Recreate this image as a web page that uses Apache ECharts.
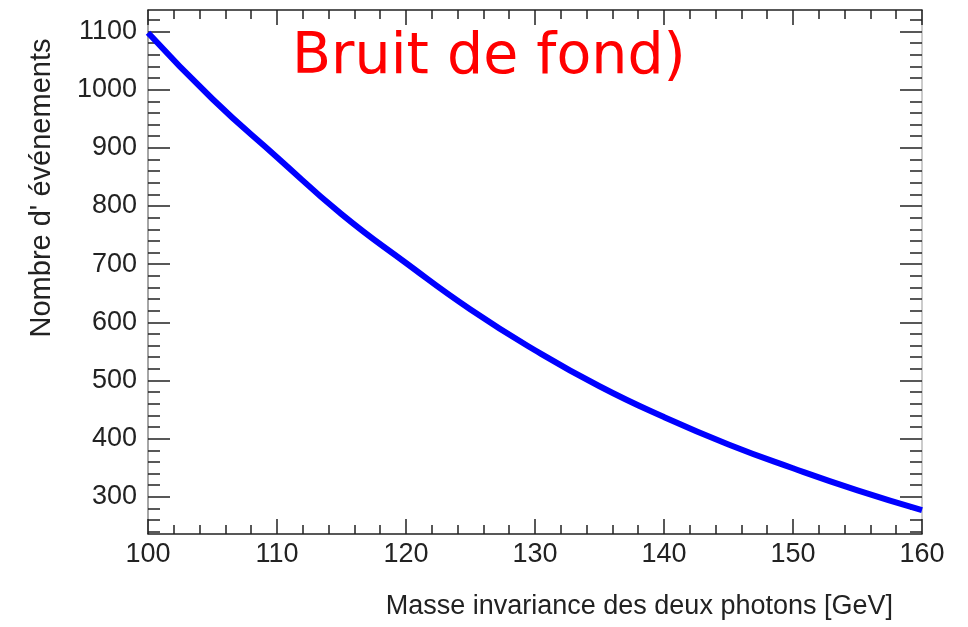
<!DOCTYPE html>
<html>
<head>
<meta charset="utf-8">
<script src="https://cdn.jsdelivr.net/npm/echarts@6/dist/echarts.min.js"></script>
<style>
html,body{margin:0;padding:0;background:#fff;}
#chart{width:968px;height:627px;}
</style>
</head>
<body>
<div id="chart"></div>
<script>
// Data
const massGeV = [100, 105, 110, 115, 120, 125, 130, 135, 140, 145, 150, 155, 160];
const nEvents = [1098, 984, 884, 786, 702, 622, 552, 490, 437, 390, 349, 311, 277];
const xTickLabels = [100, 110, 120, 130, 140, 150, 160];
const yTickLabels = [300, 400, 500, 600, 700, 800, 900, 1000, 1100];
const yMinorTicks = [];
for (let v = 240; v <= 1120; v += 20) yMinorTicks.push(v);

const Y_MIN = 236, Y_MAX = 1137;
const labelFont = { fontFamily: 'Liberation Sans, Arial, sans-serif', fontSize: 27, color: '#222' };

const chart = echarts.init(document.getElementById('chart'), null, { renderer: 'canvas' });

function yAx(pos, major, withLabels, lineColor) {
  return {
    type: 'value', position: pos, min: Y_MIN, max: Y_MAX,
    splitLine: { show: false },
    axisLine: { show: major, lineStyle: { color: lineColor, width: 1.5 } },
    axisTick: {
      show: true, inside: true,
      customValues: major ? yTickLabels : yMinorTicks,
      length: major ? 22 : 12,
      lineStyle: { color: '#222', width: 1.5 }
    },
    axisLabel: withLabels
      ? Object.assign({ show: true, customValues: yTickLabels, margin: 11,
          formatter: v => String(v) }, labelFont)
      : { show: false }
  };
}

function xAx(pos, withLabels, lineColor) {
  return {
    type: 'value', position: pos, min: 100, max: 160, interval: 10,
    splitLine: { show: false },
    axisLine: { show: true, lineStyle: { color: lineColor, width: 1.5 } },
    axisTick: { show: true, inside: true, length: 15, lineStyle: { color: '#222', width: 1.5 } },
    minorTick: { show: true, splitNumber: 5, length: 9, lineStyle: { color: '#222', width: 1.5 } },
    axisLabel: withLabels
      ? Object.assign({ show: true, margin: 7, formatter: v => String(v) }, labelFont)
      : { show: false }
  };
}

chart.setOption({
  animation: false,
  backgroundColor: '#ffffff',
  grid: { left: 148, right: 46, top: 10, bottom: 93, containLabel: false },
  xAxis: [xAx('bottom', true, '#222'), xAx('top', false, '#222')],
  yAxis: [
    yAx('left', true, true, '#888'),
    yAx('left', false, false, '#888'),
    yAx('right', true, false, '#bbb'),
    yAx('right', false, false, '#bbb')
  ],
  series: [{
    type: 'line',
    xAxisIndex: 0, yAxisIndex: 0,
    data: massGeV.map((m, i) => [m, nEvents[i]]),
    smooth: true,
    showSymbol: false,
    lineStyle: { color: '#0000ff', width: 6 }
  }],
  graphic: [
    {
      type: 'text', left: 292, top: 30,
      style: { text: 'Bruit de fond)', fill: '#ff0000', font: '57px "DejaVu Sans", Verdana, sans-serif' }
    },
    {
      type: 'text', x: 893, y: 607,
      style: { text: 'Masse invariance des deux photons [GeV]', fill: '#222',
        font: '27px "Liberation Sans", Arial, sans-serif', align: 'right', verticalAlign: 'middle' }
    },
    {
      type: 'text', x: 42, y: 188, rotation: Math.PI / 2,
      style: { text: "Nombre d' événements", fill: '#222',
        font: '29px "Liberation Sans", Arial, sans-serif', align: 'center', verticalAlign: 'middle' }
    }
  ]
});
</script>
</body>
</html>
